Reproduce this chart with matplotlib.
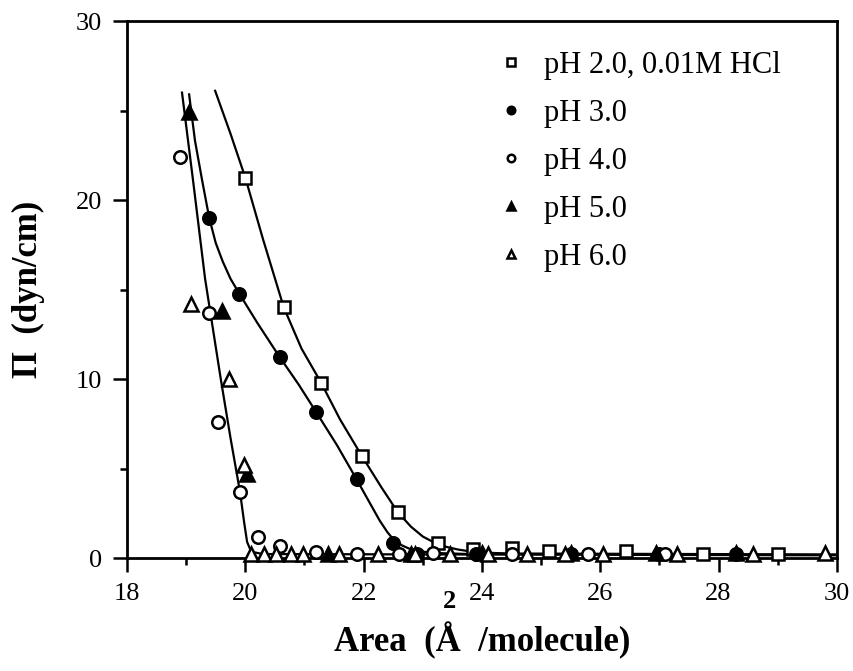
import matplotlib.pyplot as plt
from matplotlib.ticker import MultipleLocator

plt.rcParams['font.family'] = ['Liberation Serif', 'DejaVu Serif']

# measured points, area (A^2/molecule) vs surface pressure (dyn/cm)
ph2_x = [20.0, 20.65, 21.28, 21.97, 22.58, 23.25, 23.85, 24.5, 25.14, 26.44, 27.73, 29.0]
ph2_y = [21.25, 14.0, 9.8, 5.7, 2.55, 0.83, 0.5, 0.55, 0.4, 0.4, 0.25, 0.25]

ph3_x = [19.39, 19.9, 20.58, 21.2, 21.88, 22.49, 22.9, 23.9, 25.5, 27.0, 28.3]
ph3_y = [19.0, 14.76, 11.23, 8.14, 4.4, 0.83, 0.25, 0.25, 0.25, 0.25, 0.25]

ph4_x = [18.9, 19.39, 19.53, 19.91, 20.22, 20.58, 21.2, 21.88, 22.6, 23.17, 24.5, 25.8, 27.1]
ph4_y = [22.4, 13.7, 7.6, 3.7, 1.17, 0.67, 0.33, 0.2, 0.25, 0.3, 0.25, 0.2, 0.2]

ph5_x = [19.05, 19.61, 20.03, 21.4, 22.8, 24.0, 25.5, 26.95, 28.3]
ph5_y = [24.9, 13.8, 4.7, 0.25, 0.25, 0.3, 0.3, 0.3, 0.3]

ph6_x = [19.08, 19.73, 19.97, 20.1, 20.32, 20.52, 20.77, 20.97, 21.59, 22.24,
         22.86, 23.46, 24.1, 24.76, 25.4, 26.05, 27.3, 28.58, 29.8]
ph6_y = [14.2, 10.0, 5.2, 0.25, 0.2, 0.2, 0.2, 0.2, 0.2, 0.2,
         0.2, 0.2, 0.2, 0.2, 0.2, 0.2, 0.2, 0.25, 0.3]

# hand-drawn isotherm curves
fit2_x = [19.49, 19.75, 20.0, 20.3, 20.65, 20.95, 21.28, 21.6, 21.97, 22.3, 22.58,
          22.8, 23.0, 23.2, 23.4, 23.6, 23.8, 24.1, 24.5, 30.0]
fit2_y = [26.1, 23.7, 21.25, 17.8, 14.0, 11.7, 9.8, 7.75, 5.7, 3.95, 2.55,
          1.75, 1.2, 0.85, 0.62, 0.47, 0.37, 0.29, 0.25, 0.2]

fit3_x = [19.05, 19.15, 19.27, 19.39, 19.5, 19.62, 19.75, 19.9, 20.2, 20.58, 20.9,
          21.2, 21.55, 21.88, 22.1, 22.27, 22.4, 22.5, 22.65, 22.8, 23.0, 23.3, 24.0]
fit3_y = [25.9, 23.3, 21.1, 19.0, 17.6, 16.55, 15.6, 14.76, 13.15, 11.23, 9.7,
          8.14, 6.3, 4.4, 3.1, 2.1, 1.45, 1.05, 0.7, 0.48, 0.35, 0.27, 0.2]

fit4_x = [18.93, 19.12, 19.32, 19.59, 19.75, 19.91, 19.98, 20.03, 20.1, 20.3, 30.0]
fit4_y = [26.0, 21.0, 15.6, 9.9, 6.7, 3.7, 2.0, 0.9, 0.35, 0.22, 0.15]

labels = ['pH 2.0, 0.01M HCl', 'pH 3.0', 'pH 4.0', 'pH 5.0', 'pH 6.0']

fig = plt.figure(figsize=(8.54, 6.71), dpi=100)
ax = fig.add_axes([0.1487, 0.1684, 0.8313, 0.8003])

for fx, fy in [(fit2_x, fit2_y), (fit3_x, fit3_y), (fit4_x, fit4_y)]:
    ax.plot(fx, fy, color='black', lw=1.6, zorder=2)

ms = 9
mew = 1.8
series = [
    (ph2_x, ph2_y, 's', 'white'),
    (ph3_x, ph3_y, 'o', 'black'),
    (ph4_x, ph4_y, 'o', 'white'),
    (ph5_x, ph5_y, '^', 'black'),
    (ph6_x, ph6_y, '^', 'white'),
]
handles = []
for (sx, sy, m, fc), lab in zip(series, labels):
    size = ms + 1.5 if m == '^' else ms
    h, = ax.plot(sx, sy, linestyle='none', marker=m, ms=size, mfc=fc,
                 mec='black', mew=mew, label=lab, zorder=3, clip_on=False)
    handles.append(h)

ax.set_xlim(18, 30)
ax.set_ylim(0, 30)
ax.xaxis.set_major_locator(MultipleLocator(2))
ax.xaxis.set_minor_locator(MultipleLocator(1))
ax.yaxis.set_major_locator(MultipleLocator(10))
ax.yaxis.set_minor_locator(MultipleLocator(5))
ax.tick_params(which='major', direction='out', length=10, width=1.8,
               labelsize=19, pad=8)
ax.tick_params(which='minor', direction='out', length=5, width=1.8)
for sp in ax.spines.values():
    sp.set_linewidth(2.0)

ax.set_xlabel('Area  (Å  /molecule)', fontsize=25, fontweight='bold', labelpad=12)
ax.set_ylabel('Π  (dyn/cm)', fontsize=25, fontweight='bold', labelpad=22)
fig.text(0.526, 0.103, '2', fontsize=19, fontweight='bold', ha='center', va='center')

leg = ax.legend(handles=handles, loc='upper left', bbox_to_anchor=(0.48, 0.995),
                frameon=False, fontsize=22, markerscale=0.6, handlelength=1.0,
                handletextpad=0.6, labelspacing=0.62)

fig.savefig('out.png', dpi=100)
